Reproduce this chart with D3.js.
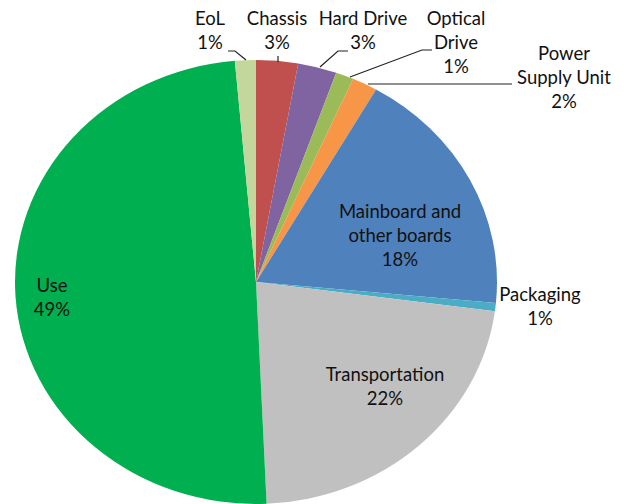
<!DOCTYPE html>
<html>
<head>
<meta charset="utf-8">
<script src="https://cdn.jsdelivr.net/npm/d3@7"></script>
<style>
  body { margin: 0; background: #fff; }
  text { font-family: Lato, "Open Sans", sans-serif; font-size: 18.5px; fill: #111; }
</style>
</head>
<body>
<script>
// slice data, clockwise from 12 o'clock
let categories = ["Chassis", "Hard Drive", "Optical Drive", "Power Supply Unit",
                  "Mainboard and other boards", "Packaging", "Transportation", "Use", "EoL"];
let shares = [2.8, 2.6, 1.2, 1.7, 18.2, 0.6, 22.2, 49.3, 1.4];
let colors = ["#C0504D", "#8064A2", "#9BBB59", "#F79646", "#4F81BD",
              "#4BACC6", "#C0C0C0", "#00B050", "#C3D69B"];

// label layout: text lines (category split) + centre x + first baseline
let labelLines = [["Chassis"], ["Hard Drive"], ["Optical", "Drive"], ["Power", "Supply Unit"],
                  ["Mainboard and", "other boards"], ["Packaging"], ["Transportation"], ["Use"], ["EoL"]];
let labelX = [277, 363, 456, 564, 400, 540, 385, 52, 210];
let labelY = [25, 25, 25, 60, 218, 301, 381, 292, 25];
let leaders = [
    [[278, 56], [278, 62]],
    [[348, 51], [338, 51], [320, 67]],
    [[432, 50], [422, 50], [350, 77]],
    [[512, 84], [368, 84]],
    null, null, null, null,
    [[228, 51], [235, 51], [246, 60]]
];

let W = 626, H = 504;
let cx = 256, cy = 282, rx = 241, ry = 222;
let lineH = 24;

let svg = d3.select('body').append('svg')
    .attr('width', W)
    .attr('height', H);

let pie = d3.pie().sort(null).value(d => d)(shares);
let arc = d3.arc().innerRadius(0).outerRadius(rx);

svg.append('g')
    .attr('transform', `translate(${cx},${cy}) scale(1,${ry / rx})`)
  .selectAll('path')
  .data(pie)
  .enter().append('path')
    .attr('d', arc)
    .attr('fill', (d, i) => colors[i]);

let total = d3.sum(shares);
let line = d3.line();

leaders.forEach(function(pts) {
    if (!pts) return;
    svg.append('path')
        .attr('d', line(pts))
        .attr('fill', 'none')
        .attr('stroke', '#222')
        .attr('stroke-width', 1.2);
});

labelLines.forEach(function(lines, i) {
    let all = lines.concat([Math.round(shares[i] / total * 100) + '%']);
    let t = svg.append('text').attr('text-anchor', 'middle');
    all.forEach(function(s, k) {
        t.append('tspan')
            .attr('x', labelX[i])
            .attr('y', labelY[i] + k * lineH)
            .text(s);
    });
});
</script>
</body>
</html>
